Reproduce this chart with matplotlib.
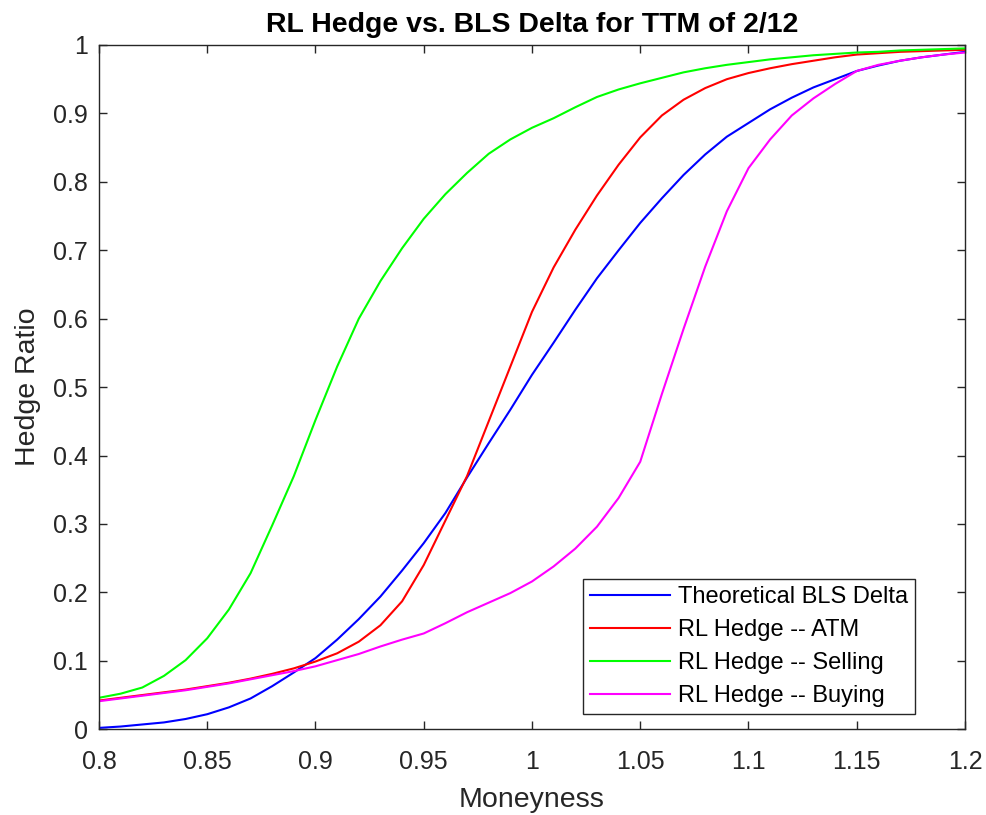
import matplotlib.pyplot as plt
import numpy as np

plt.rcParams['font.family'] = ['Liberation Sans', 'DejaVu Sans']

moneyness = np.round(np.arange(0.80, 1.2001, 0.01), 2)

bls_delta = [0.002, 0.004, 0.007, 0.010, 0.015, 0.022, 0.032, 0.045, 0.063, 0.083,
             0.104, 0.131, 0.161, 0.194, 0.232, 0.272, 0.316, 0.368, 0.418, 0.467,
             0.518, 0.565, 0.613, 0.659, 0.700, 0.740, 0.776, 0.810, 0.840, 0.866,
             0.886, 0.906, 0.923, 0.938, 0.950, 0.962, 0.970, 0.977, 0.982, 0.986,
             0.990]
rl_atm = [0.042, 0.046, 0.050, 0.054, 0.058, 0.063, 0.068, 0.074, 0.081, 0.089,
          0.099, 0.111, 0.128, 0.152, 0.187, 0.240, 0.305, 0.370, 0.450, 0.530,
          0.610, 0.675, 0.730, 0.780, 0.825, 0.865, 0.897, 0.920, 0.937, 0.950,
          0.959, 0.966, 0.972, 0.977, 0.982, 0.986, 0.988, 0.990, 0.991, 0.992,
          0.993]
rl_selling = [0.046, 0.052, 0.061, 0.078, 0.101, 0.133, 0.175, 0.228, 0.298, 0.370,
              0.452, 0.530, 0.600, 0.655, 0.703, 0.746, 0.782, 0.813, 0.841, 0.862,
              0.879, 0.893, 0.909, 0.924, 0.935, 0.944, 0.952, 0.960, 0.966, 0.971,
              0.975, 0.979, 0.982, 0.985, 0.987, 0.989, 0.990, 0.992, 0.993, 0.994,
              0.995]
rl_buying = [0.041, 0.045, 0.049, 0.053, 0.057, 0.062, 0.067, 0.073, 0.079, 0.085,
             0.092, 0.101, 0.110, 0.121, 0.131, 0.140, 0.155, 0.171, 0.185, 0.199,
             0.216, 0.238, 0.264, 0.296, 0.338, 0.391, 0.490, 0.585, 0.676, 0.757,
             0.820, 0.862, 0.897, 0.922, 0.943, 0.962, 0.971, 0.977, 0.982, 0.986,
             0.989]

labels = ['Theoretical BLS Delta', 'RL Hedge -- ATM',
          'RL Hedge -- Selling', 'RL Hedge -- Buying']
colors = ['#0000ff', '#ff0000', '#00ff00', '#ff00ff']

fig = plt.figure(figsize=(9.87, 8.15), dpi=100)
ax = fig.add_axes([0.1003, 0.1052, 0.8774, 0.8396])

for y, c, lab in zip([bls_delta, rl_atm, rl_selling, rl_buying], colors, labels):
    ax.plot(moneyness, y, color=c, lw=1.5, label=lab)

ax.set_xlim(0.8, 1.2)
ax.set_ylim(0, 1)
ax.set_xticks(np.round(np.arange(0.8, 1.201, 0.05), 2))
ax.set_xticklabels(['0.8', '0.85', '0.9', '0.95', '1', '1.05', '1.1', '1.15', '1.2'])
ax.set_yticks(np.round(np.arange(0, 1.01, 0.1), 1))
ax.set_yticklabels(['0', '0.1', '0.2', '0.3', '0.4', '0.5', '0.6', '0.7', '0.8', '0.9', '1'])
ax.tick_params(direction='in', length=6, width=1, top=True, right=True,
               labelsize=18, colors='#262626')
ax.tick_params(axis='x', pad=15)
ax.tick_params(axis='y', pad=8)
for s in ax.spines.values():
    s.set_color('#262626')
    s.set_linewidth(1)

ax.set_title('RL Hedge vs. BLS Delta for TTM of 2/12', fontsize=20.5,
             fontweight='bold', pad=9)
ax.set_xlabel('Moneyness', fontsize=20.5, color='#262626', labelpad=9)
ax.set_ylabel('Hedge Ratio', fontsize=20.5, color='#262626', labelpad=9)

leg = ax.legend(loc='lower right', bbox_to_anchor=(0.942, 0.022), fontsize=17,
                fancybox=False, edgecolor='#262626', framealpha=1,
                handlelength=3.4, borderpad=0.3, labelspacing=0.47,
                handletextpad=0.3, borderaxespad=0)
leg.get_frame().set_linewidth(1)

fig.savefig('out.png', dpi=100)
